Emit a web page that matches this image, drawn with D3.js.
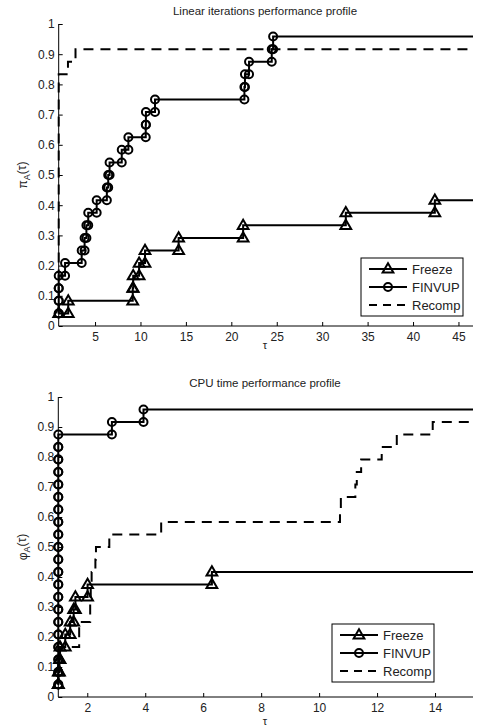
<!DOCTYPE html>
<html>
<head>
<meta charset="utf-8">
<script src="https://cdn.jsdelivr.net/npm/d3@7"></script>
<style>
  body { margin: 0; background: #fff; }
  text { font-family: "Liberation Sans", Arial, sans-serif; fill: #222; }
</style>
</head>
<body>
<script>
// number of test problems behind each profile
const nProblems = 24;

// sorted performance ratios (tau) of the solved problems, linear iterations
const linFreeze = [1.0, 2.05, 9.15, 9.2, 9.85, 10.5, 14.2, 21.3, 32.6, 42.4];
const linFinvup = [1.0, 1.0, 1.0, 1.0, 1.7, 3.53, 3.85, 4.05, 4.25, 5.18, 6.3, 6.45,
  6.6, 7.94, 8.67, 10.58, 10.6, 11.6, 21.44, 21.5, 21.95, 24.45, 24.6];
const linRecomp = [1.0, 1.0, 1.0, 1.0, 1.0, 1.0, 1.0, 1.0, 1.0, 1.0, 1.0, 1.0,
  1.0, 1.0, 1.0, 1.0, 1.0, 1.0, 1.0, 1.0, 2.02, 2.85];

// sorted performance ratios, CPU time
const cpuFreeze = [1.0, 1.0, 1.04, 1.06, 1.24, 1.41, 1.53, 1.59, 2.01, 6.3];
const cpuFinvup = [1.0, 1.0, 1.0, 1.0, 1.0, 1.0, 1.0, 1.0, 1.0, 1.0, 1.0, 1.0,
  1.0, 1.0, 1.0, 1.0, 1.0, 1.0, 1.0, 1.0, 1.0, 2.85, 3.94];
const cpuRecomp = [1.0, 1.0, 1.0, 1.0, 1.72, 1.72, 2.1, 2.1, 2.12, 2.15, 2.28, 2.3,
  2.76, 4.55, 10.72, 10.75, 11.25, 11.3, 11.45, 12.16, 12.68, 13.92];

const seriesNames = ["Freeze", "FINVUP", "Recomp"];
const yTicks = [0, 0.1, 0.2, 0.3, 0.4, 0.5, 0.6, 0.7, 0.8, 0.9, 1];
const linXTicks = [5, 10, 15, 20, 25, 30, 35, 40, 45];
const cpuXTicks = [2, 4, 6, 8, 10, 12, 14];

const w = 480, h = 726;
const svg = d3.select("body").append("svg")
  .attr("width", w)
  .attr("height", h);
svg.append("rect").attr("width", w).attr("height", h).attr("fill", "#fff");

const styles = {
  Freeze: { marker: "tri", dash: null },
  FINVUP: { marker: "circ", dash: null },
  Recomp: { marker: null, dash: "10,7" }
};

// corners of the staircase, like matlab's stairs()
var stairs = function (taus) {
  var pts = [];
  taus.forEach((t, i) => {
    if (i > 0) pts.push([t, i / nProblems]);
    pts.push([t, (i + 1) / nProblems]);
  });
  return pts;
}

var drawMarker = function (g, kind, x, y) {
  if (kind == "circ") {
    g.append("circle").attr("cx", x).attr("cy", y).attr("r", 4)
      .attr("fill", "none").attr("stroke", "#000").attr("stroke-width", 2);
  } else if (kind == "tri") {
    g.append("path").attr("d", d3.symbol(d3.symbolTriangle, 50)())
      .attr("transform", "translate(" + x + "," + (y + 0.5) + ")")
      .attr("fill", "none").attr("stroke", "#000").attr("stroke-width", 2);
  }
}

var drawPanel = function (p) {
  const x = d3.scaleLinear().domain(p.xDomain).range([p.left, p.right]);
  const y = d3.scaleLinear().domain([0, 1]).range([p.bottom, p.top]);
  const g = svg.append("g");

  // axes, ticks pointing inward
  const yAxis = d3.axisLeft(y).tickValues(yTicks).tickSize(-4).tickPadding(4)
    .tickFormat(d3.format("~g"));
  const xAxis = d3.axisBottom(x).tickValues(p.xTicks).tickSize(-4).tickPadding(6);
  g.append("g").attr("transform", "translate(" + p.left + ",0)").call(yAxis);
  g.append("g").attr("transform", "translate(0," + p.bottom + ")").call(xAxis);
  g.selectAll(".domain").attr("d", null);
  g.append("path")
    .attr("d", "M" + p.left + "," + p.top + "V" + p.bottom + "H" + p.right)
    .attr("fill", "none").attr("stroke", "#000").attr("stroke-width", 1);
  g.selectAll(".tick line").attr("stroke", "#000");
  g.selectAll(".tick text").attr("font-size", 12).attr("fill", "#222")
    .style("font-family", "'Liberation Sans', Arial, sans-serif");

  // series
  const line = d3.line().x(d => x(d[0])).y(d => y(d[1]));
  p.series.forEach((taus, si) => {
    const st = styles[seriesNames[si]];
    const pts = stairs(taus);
    const last = pts[pts.length - 1];
    const full = pts.concat([[p.xDomain[1], last[1]]]);
    g.append("path").attr("d", line(full))
      .attr("fill", "none").attr("stroke", "#000").attr("stroke-width", 2)
      .attr("stroke-dasharray", st.dash);
    if (st.marker) {
      pts.forEach(d => drawMarker(g, st.marker, x(d[0]), y(d[1])));
    }
  });

  // titles
  g.append("text").attr("x", 265).attr("y", p.titleY).attr("text-anchor", "middle")
    .attr("font-size", 11.5).text(p.title);
  g.append("text").attr("x", 265).attr("y", p.xLabelY).attr("text-anchor", "middle")
    .attr("font-size", 11).text("τ");
  const yl = g.append("text").attr("text-anchor", "middle").attr("font-size", 12)
    .attr("transform", "translate(" + 27 + "," + ((p.top + p.bottom) / 2) + ") rotate(-90)");
  yl.append("tspan").text(p.yLetter);
  yl.append("tspan").attr("dy", "0.35em").attr("font-size", 9).text("A");
  yl.append("tspan").attr("dy", "-0.35em").text("(τ)");

  // legend
  const lg = g.append("g").attr("transform", "translate(" + p.legend[0] + "," + p.legend[1] + ")");
  lg.append("rect").attr("width", 102).attr("height", 58)
    .attr("fill", "#fff").attr("stroke", "#000").attr("stroke-width", 1);
  seriesNames.forEach((name, i) => {
    const yy = 11 + i * 18;
    lg.append("line").attr("x1", 8).attr("x2", 46).attr("y1", yy).attr("y2", yy)
      .attr("stroke", "#000").attr("stroke-width", 2)
      .attr("stroke-dasharray", name == "Recomp" ? "8,6" : null);
    drawMarker(lg, styles[name].marker, 27, yy);
    lg.append("text").attr("x", 51).attr("y", yy + 4.5).attr("font-size", 13).text(name);
  });
}

drawPanel({
  title: "Linear iterations performance profile", yLetter: "π",
  xDomain: [1, 46.6], xTicks: linXTicks,
  left: 58.7, right: 473, top: 24, bottom: 326,
  titleY: 15, xLabelY: 349,
  series: [linFreeze, linFinvup, linRecomp],
  legend: [361, 258]
});

drawPanel({
  title: "CPU time performance profile", yLetter: "φ",
  xDomain: [1, 15.31], xTicks: cpuXTicks,
  left: 58.3, right: 473, top: 397, bottom: 697,
  titleY: 387, xLabelY: 725,
  series: [cpuFreeze, cpuFinvup, cpuRecomp],
  legend: [332, 624]
});
</script>
</body>
</html>
